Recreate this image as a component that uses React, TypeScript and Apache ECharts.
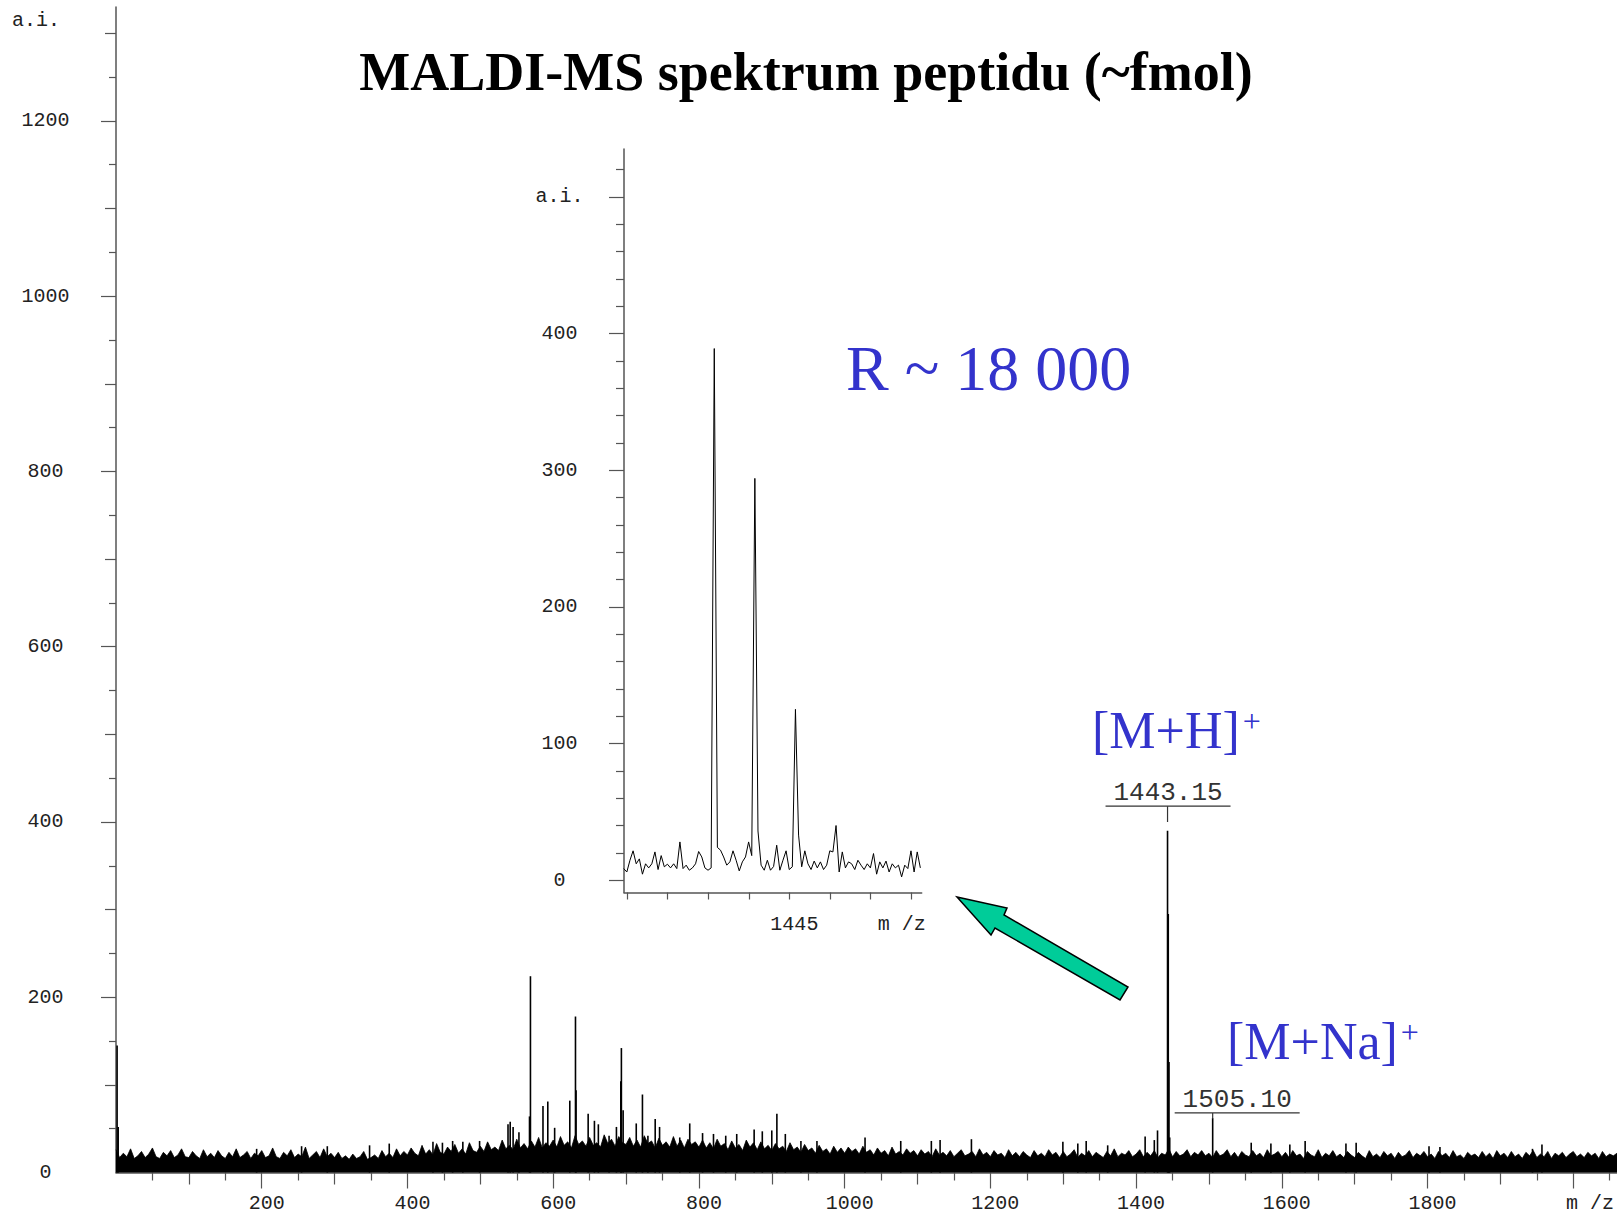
import React, { useEffect, useRef } from "react";
import * as echarts from "echarts";

// ---------- DATA ----------
// Main spectrum: upper edge of the noise band, one value every 5 m/z from 0 to 2060
const NOISE_STEP = 5;
const noiseTop = [
  26,17,22,18,27,16,19,24,17,21,28,18,16,23,19,25,17,20,27,18,
  17,24,19,16,26,18,22,17,25,19,16,23,18,27,17,20,24,16,22,19,
  25,17,19,28,18,16,23,19,26,17,21,18,29,16,20,24,17,27,18,22,
  17,23,16,19,15,21,16,18,24,15,17,20,16,25,18,22,17,27,19,24,
  20,28,22,19,31,21,26,20,33,23,21,29,24,32,22,27,21,34,25,23,
  30,24,35,26,29,25,37,27,31,26,38,28,33,27,36,29,40,28,34,30,
  37,29,41,31,35,28,42,32,36,30,40,31,34,29,43,33,38,30,41,34,
  32,40,30,37,29,42,33,36,28,39,31,35,29,41,30,37,28,38,32,35,
  29,37,28,34,27,38,30,33,26,36,28,32,25,37,29,34,26,35,27,31,
  25,33,27,30,24,34,26,29,23,32,25,28,22,31,24,27,21,30,23,28,
  22,29,24,27,21,30,23,26,20,28,22,25,19,29,21,24,20,27,22,25,
  19,26,21,24,18,27,20,23,19,25,18,22,26,19,21,24,18,27,20,23,
  18,25,20,22,17,26,19,23,18,24,20,17,25,19,22,18,26,20,23,17,
  24,18,21,26,17,22,19,25,18,23,20,17,24,19,27,18,22,20,25,18,
  21,26,18,23,19,25,17,22,20,27,18,24,19,21,26,18,23,20,25,19,
  22,17,25,19,21,26,18,23,17,24,20,18,25,19,22,17,26,19,21,24,
  18,23,17,25,19,21,16,24,20,18,26,17,22,19,25,18,21,17,24,20,
  17,23,19,16,25,18,21,17,24,19,22,16,23,18,20,25,17,22,19,24,
  18,21,16,24,19,22,17,25,18,20,16,23,19,21,17,24,18,22,16,25,
  19,22,17,24,18,21,16,23,19,25,17,21,18,24,16,22,19,23,17,21,
  24,18,21,17,23,19,22,16,24,18,21,19,22,
];

// Main spectrum: individual peaks standing above the noise
const spikeMz = [
  1.5, 3,
  193, 254.7, 290, 348, 375, 435, 448, 462, 476, 499,
  538, 541, 545, 553, 567.5, 568.8, 586, 592.6, 602, 622.8, 630.6, 631.4, 648, 656.6, 662,
  676.7, 686.8, 692.8, 693.6, 696, 714, 722.5, 730, 740, 746, 773.7, 787.4,
  805, 820, 836.8, 851.9, 875.8, 887, 900, 907, 918.6, 940, 962,
  1028, 1077, 1119, 1131, 1174, 1299.5, 1320, 1331.5, 1361,
  1412.4, 1425, 1429.4, 1443.15, 1444.15, 1445.15, 1446.15, 1505.1,
  1558, 1585, 1611, 1632, 1688, 1702, 1802, 1817, 1944, 1957,
];
const spikeInt = [
  145, 52,
  27, 30, 30, 31, 33, 35, 34, 36, 35, 36,
  55, 58, 52, 46, 64, 224, 76, 81, 51, 82, 178, 94, 67, 59, 55,
  42, 52, 104, 142, 71, 56, 89, 42, 61, 52, 40, 56,
  45, 44, 42, 44, 49, 47, 48, 67, 44, 36, 36,
  40, 36, 36, 37, 38, 35, 33, 36, 31,
  41, 37, 48, 390, 295, 126, 40, 62,
  34, 33, 32, 36, 33, 34, 30, 29, 27, 32,
];

// Inset: isotope cluster of [M+H]+, sampled every 1/13 m/z
const insetStart = 1440.919;
const insetStep = 1 / 13;
const insetIntensity = [
  8.5, 6, 14.6, 21.5, 12, 15.6, 4.4, 12, 9, 12,
  20.7, 7.8, 18, 9.8, 11.7, 9, 12, 8.5, 28, 8.5,
  11, 7.3, 9, 12, 21, 17, 9, 7.3, 9, 389,
  24, 22, 17, 11, 13.4, 21.5, 14.6, 6.8, 13.4, 17,
  28, 18, 294, 36, 11, 7.3, 14.6, 7.3, 10, 25.6,
  7.3, 14.6, 21.5, 7.8, 9.8, 125, 33, 9.8, 21.5, 12,
  7.8, 14, 9, 13.4, 7.8, 11, 21.5, 20.7, 40, 6,
  20.7, 9, 13.4, 12, 7.8, 14.6, 11, 7.8, 12, 9,
  19.5, 4.4, 13.4, 9, 14, 6, 12, 9, 11, 2.4,
  11, 8.5, 21.5, 6, 20.7, 9,
];

// Tick values / labels
const mainYLabels = [0, 200, 400, 600, 800, 1000, 1200];
const mainYMid = [100, 300, 500, 700, 900, 1100, 1300];
const mainYMinor = [50, 150, 250, 350, 450, 550, 650, 750, 850, 950, 1050, 1150, 1250];
const mainXLabels = [200, 400, 600, 800, 1000, 1200, 1400, 1600, 1800];
const mainXMajor = [200, 400, 600, 800, 1000, 1200, 1400, 1600, 1800, 2000];
const mainXMid = [100, 300, 500, 700, 900, 1100, 1300, 1500, 1700, 1900];
const mainXMinor = [50, 150, 250, 350, 450, 550, 650, 750, 850, 950, 1050, 1150, 1250, 1350, 1450, 1550, 1650, 1750, 1850, 1950, 2050];
const insetXTicks = [1441, 1442, 1443, 1444, 1445, 1446, 1447, 1448];
const insetXLabels = [1445];
const insetYMajor = [0, 100, 200, 300, 400, 500];
const insetYMinor = [20, 40, 60, 80, 120, 140, 160, 180, 220, 240, 260, 280, 320, 340, 360, 380, 420, 440, 460, 480, 520];

// Peak annotations
const peakLabelMz = [1443.15, 1505.1];
const peakLabelText = ["1443.15", "1505.10"];

const titleText = "MALDI-MS spektrum peptidu (~fmol)";
const resolutionText = "R ~ 18 000";

// ---------- STYLE ----------
const AXIS = "#555";
const MONO = '"Liberation Mono", "DejaVu Sans Mono", monospace';
const SERIF = '"Liberation Serif", "Times New Roman", serif';
const BLUE = "#3333cc";
const lab = { fontFamily: MONO, fontSize: 20, color: "#222" };
const plain = (v: number) => String(v);

function tickOnlyAxis(grid: number, min: number, max: number, values: number[], length: number, position: string) {
  return {
    type: "value",
    gridIndex: grid,
    min,
    max,
    position,
    axisLine: { show: false, onZero: false },
    axisTick: { show: true, customValues: values, length, lineStyle: { color: AXIS, width: 1.2 } },
    axisLabel: { show: false },
    splitLine: { show: false },
  };
}

export default function App() {
  const ref = useRef<HTMLDivElement>(null);

  useEffect(() => {
    if (!ref.current) return;
    const chart = echarts.init(ref.current, null, { renderer: "svg" });

    const noiseData = noiseTop.map((v, i) => [i * NOISE_STEP, v]);
    const spikeData = spikeMz.map((m, i) => [m, spikeInt[i]]);
    const insetData = insetIntensity.map((v, i) => [insetStart + i * insetStep, v]);

    const option: any = {
      animation: false,
      backgroundColor: "#ffffff",
      grid: [
        { left: 116, top: 7, right: 0, height: 1165.5, containLabel: false, outerBoundsMode: "none" },
        { left: 624, top: 149, width: 297.7, height: 743.5, containLabel: false, outerBoundsMode: "none" },
      ],
      xAxis: [
        {
          type: "value",
          gridIndex: 0,
          min: 0,
          max: 2060,
          position: "bottom",
          axisLine: { show: true, onZero: false, lineStyle: { color: AXIS, width: 1.5 } },
          axisTick: { show: true, customValues: mainXMajor, length: 16, lineStyle: { color: AXIS, width: 1.2 } },
          axisLabel: { show: true, customValues: mainXLabels, formatter: plain, margin: 21, padding: [0, 0, 0, 10], ...lab },
          splitLine: { show: false },
          name: "m /z",
          nameLocation: "end",
          nameGap: 0,
          nameTextStyle: { ...lab, align: "right", verticalAlign: "top", padding: [21, 3, 0, 0] },
        },
        tickOnlyAxis(0, 0, 2060, mainXMid, 12, "bottom"),
        tickOnlyAxis(0, 0, 2060, mainXMinor, 8, "bottom"),
        {
          type: "value",
          gridIndex: 1,
          min: 1440.926,
          max: 1448.26,
          position: "bottom",
          axisLine: { show: true, onZero: false, lineStyle: { color: AXIS, width: 1.5 } },
          axisTick: { show: true, customValues: insetXTicks, length: 7, lineStyle: { color: AXIS, width: 1.2 } },
          axisLabel: { show: true, customValues: insetXLabels, formatter: plain, margin: 22, padding: [0, 0, 0, 10], ...lab },
          splitLine: { show: false },
          name: "m /z",
          nameLocation: "end",
          nameGap: -44,
          nameTextStyle: { ...lab, align: "left", verticalAlign: "top", padding: [22, 0, 0, 0] },
        },
      ],
      yAxis: [
        {
          type: "value",
          gridIndex: 0,
          min: 0,
          max: 1330,
          position: "left",
          axisLine: { show: true, onZero: false, lineStyle: { color: AXIS, width: 1.5 } },
          axisTick: { show: true, customValues: mainYLabels.filter((v) => v > 0), length: 15, lineStyle: { color: AXIS, width: 1.2 } },
          axisLabel: { show: true, customValues: mainYLabels, formatter: plain, margin: 70.5, align: "center", ...lab },
          splitLine: { show: false },
          name: "a.i.",
          nameLocation: "end",
          nameGap: -13,
          nameTextStyle: { ...lab, align: "right", verticalAlign: "middle", padding: [0, 56, 0, 0] },
        },
        tickOnlyAxis(0, 0, 1330, mainYMid, 11, "left"),
        tickOnlyAxis(0, 0, 1330, mainYMinor, 7, "left"),
        {
          type: "value",
          gridIndex: 1,
          min: -9,
          max: 535,
          position: "left",
          axisLine: { show: true, onZero: false, lineStyle: { color: AXIS, width: 1.5 } },
          axisTick: { show: true, customValues: insetYMajor, length: 15, lineStyle: { color: AXIS, width: 1.2 } },
          axisLabel: {
            show: true,
            customValues: insetYMajor,
            margin: 64.5,
            align: "center",
            formatter: (v: number) => (v === 500 ? "a.i." : String(v)),
            ...lab,
          },
          splitLine: { show: false },
        },
        tickOnlyAxis(1, -9, 535, insetYMinor, 8, "left"),
      ],
      series: [
        {
          name: "noise",
          type: "line",
          xAxisIndex: 0,
          yAxisIndex: 0,
          data: noiseData,
          symbol: "none",
          silent: true,
          lineStyle: { color: "#000", width: 0.8 },
          areaStyle: { color: "#000", opacity: 1 },
          z: 2,
        },
        {
          name: "peaks",
          type: "bar",
          xAxisIndex: 0,
          yAxisIndex: 0,
          data: spikeData,
          barWidth: 1.6,
          silent: true,
          itemStyle: { color: "#000" },
          z: 3,
        },
        {
          name: "inset",
          type: "line",
          xAxisIndex: 3,
          yAxisIndex: 3,
          data: insetData,
          symbol: "none",
          silent: true,
          lineStyle: { color: "#000", width: 1 },
          z: 3,
        },
      ],
    };

    chart.setOption(option);

    // ---- annotations placed from the chart's own scales ----
    const px = (mz: number, v: number) => chart.convertToPixel({ xAxisIndex: 0, yAxisIndex: 0 }, [mz, v]) as number[];

    const canvas = document.createElement("canvas");
    const ctx = canvas.getContext("2d")!;
    const measure = (t: string, font: string) => {
      ctx.font = font;
      return ctx.measureText(t).width;
    };

    const graphics: any[] = [];
    graphics.push({
      type: "text",
      x: 806,
      y: 72,
      style: { text: titleText, font: `bold 54px ${SERIF}`, fill: "#000", align: "center", verticalAlign: "middle" },
    });
    graphics.push({
      type: "text",
      x: 846,
      y: 368,
      style: { text: resolutionText, font: `64px ${SERIF}`, fill: BLUE, align: "left", verticalAlign: "middle" },
    });
    const ionFont = `52px ${SERIF}`;
    const ions = [
      { t: "[M+H]", x: 1092, y: 730, py: 721 },
      { t: "[M+Na]", x: 1227, y: 1041, py: 1032 },
    ];
    ions.forEach((ion) => {
      const w = measure(ion.t, ionFont);
      graphics.push({
        type: "text",
        x: ion.x,
        y: ion.y,
        style: { text: ion.t, font: ionFont, fill: BLUE, align: "left", verticalAlign: "middle" },
      });
      graphics.push({
        type: "text",
        x: ion.x + w + 3,
        y: ion.py,
        style: { text: "+", font: `32px ${SERIF}`, fill: BLUE, align: "left", verticalAlign: "middle" },
      });
    });

    const labelLevels = [418, 68];
    const connectorEnd = [400, 62];
    const spans = [
      [-62, 63],
      [-38, 87],
    ];
    peakLabelMz.forEach((mz, i) => {
      const p = px(mz, labelLevels[i]);
      const q = px(mz, connectorEnd[i]);
      const [a, b] = spans[i];
      graphics.push({
        type: "line",
        shape: { x1: p[0] + a, y1: p[1], x2: p[0] + b, y2: p[1] },
        style: { stroke: "#333", lineWidth: 1.2 },
      });
      graphics.push({
        type: "line",
        shape: { x1: p[0], y1: p[1], x2: p[0], y2: q[1] },
        style: { stroke: "#333", lineWidth: 1.2 },
      });
      graphics.push({
        type: "text",
        x: p[0] + (a + b) / 2,
        y: p[1] - 13,
        style: { text: peakLabelText[i], font: `26px ${MONO}`, fill: "#333", align: "center", verticalAlign: "middle" },
      });
    });

    graphics.push({
      type: "polygon",
      shape: {
        points: [
          [957, 897],
          [1007, 908],
          [1004, 915],
          [1128, 987],
          [1120, 1000],
          [995, 928],
          [991, 935],
        ],
      },
      style: { fill: "#00cc99", stroke: "#000", lineWidth: 1.5 },
    });

    chart.setOption({ graphic: { elements: graphics } });

    return () => chart.dispose();
  }, []);

  return (
    <div
      ref={ref}
      style={{ position: "absolute", left: 0, top: 0, width: 1617, height: 1215, background: "#fff" }}
    />
  );
}
